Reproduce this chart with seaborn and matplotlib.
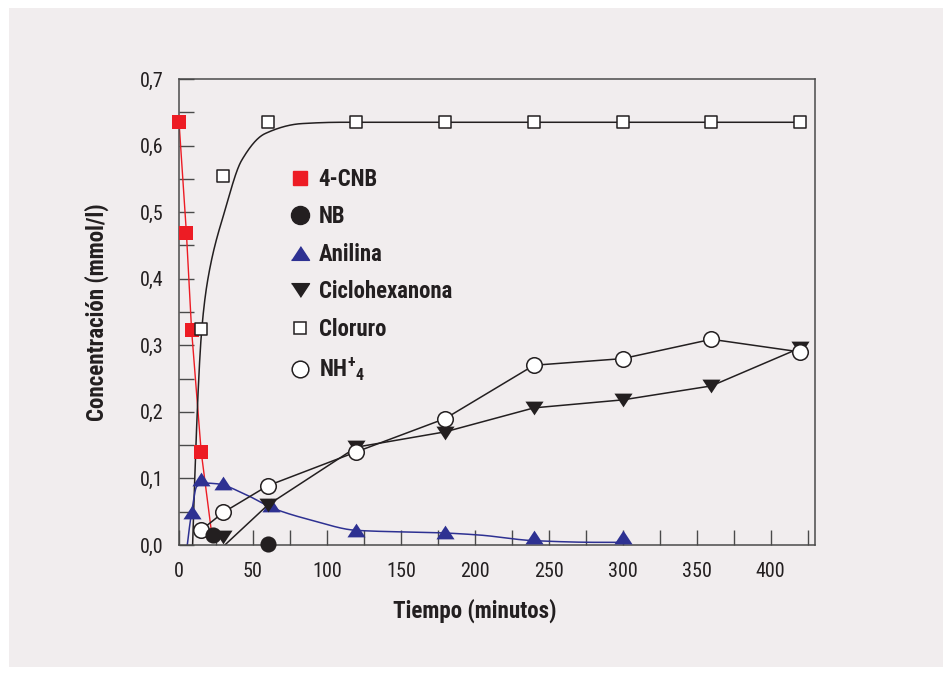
import numpy as np
import matplotlib
matplotlib.use("Agg")
import matplotlib.pyplot as plt
import matplotlib.font_manager as fm
import seaborn as sns
from matplotlib.lines import Line2D
from matplotlib.patches import Rectangle
from matplotlib.ticker import MultipleLocator, FuncFormatter
from matplotlib.font_manager import FontProperties

# ---------------- data ----------------
cnb_t = [0, 5, 8.5, 15, 22.8]
cnb_y = [0.636, 0.469, 0.323, 0.140, 0.005]
cnb_marked = 4  # last node is hidden under the NB marker

nb_t = [23, 60]
nb_y = [0.015, 0.002]

anil_t = [8.6, 15, 30, 62, 120, 180, 240, 300]
anil_y = [0.050, 0.099, 0.093, 0.060, 0.023, 0.019, 0.012, 0.012]
# fitted trend curve for Anilina (nodes)
anil_fit_t = [5.6, 8.6, 12, 17.6, 25.5, 45.8, 63.8, 90, 120, 180, 203, 240, 283, 300]
anil_fit_y = [0.0, 0.050, 0.088, 0.093, 0.092, 0.075, 0.055, 0.037, 0.022, 0.018, 0.015, 0.0065, 0.004, 0.004]

ciclo_t = [30, 60, 120, 180, 240, 300, 360, 420]
ciclo_y = [0.0125, 0.060, 0.147, 0.168, 0.206, 0.218, 0.239, 0.296]
ciclo_line_t = [31, 60, 120, 180, 240, 300, 360, 420]
ciclo_line_y = [0.0, 0.060, 0.147, 0.170, 0.206, 0.218, 0.239, 0.296]

clor_t = [15, 30, 60, 120, 180, 240, 300, 360, 420]
clor_y = [0.324, 0.555, 0.635, 0.635, 0.635, 0.635, 0.635, 0.635, 0.635]
# fitted trend curve for Cloruro (nodes)
clor_fit_t = [9.2, 15.4, 19.8, 31.1, 42.4, 58.2, 83, 110, 420]
clor_fit_y = [0.0, 0.324, 0.403, 0.503, 0.578, 0.618, 0.633, 0.635, 0.635]

nh4_t = [15, 30, 60, 120, 180, 240, 300, 360, 420]
nh4_y = [0.0225, 0.049, 0.089, 0.140, 0.190, 0.270, 0.280, 0.309, 0.290]

labels = ["4-CNB", "NB", "Anilina", "Ciclohexanona", "Cloruro", r"NH$^{+}$$_{4}$"]
xticks = [0, 50, 100, 150, 200, 250, 300, 350, 400]
yticks = [0.0, 0.1, 0.2, 0.3, 0.4, 0.5, 0.6, 0.7]

# ---------------- style ----------------
RED = "#ed1c24"
BLUE = "#2e3192"
BLACK = "#231f20"
BG = "#f1edee"
SPINE = "#4a4a4a"

sns.set_theme(style="ticks")

# pick the narrowest suitable installed sans family
_ttf = fm.fontManager.ttflist
_names = {f.name for f in _ttf}
FAM, STRETCH = None, "normal"
for nm in ["Liberation Sans Narrow", "Roboto Condensed", "Noto Sans Condensed",
           "Open Sans Condensed", "DejaVu Sans Condensed", "Arimo Narrow"]:
    if nm in _names:
        FAM = nm
        break
if FAM is None:
    for nm in ["Noto Sans", "Open Sans", "DejaVu Sans", "Roboto"]:
        if any(f.name == nm and str(f.stretch) in ("condensed", "semi-condensed", "extra-condensed")
               for f in _ttf):
            FAM, STRETCH = nm, "condensed"
            break
if FAM is None:
    for nm in ["Roboto", "Liberation Sans", "DejaVu Sans"]:
        if nm in _names:
            FAM = nm
            break
FAMS = [FAM, "DejaVu Sans"]
plt.rcParams["font.family"] = FAMS
plt.rcParams["font.stretch"] = STRETCH
plt.rcParams["mathtext.default"] = "regular"


def pchip(x, y, xs):
    x = np.asarray(x, float)
    y = np.asarray(y, float)
    h = np.diff(x)
    d = np.diff(y) / h
    n = len(x)
    m = np.zeros(n)
    for k in range(1, n - 1):
        if d[k - 1] * d[k] > 0:
            w1 = 2 * h[k] + h[k - 1]
            w2 = h[k] + 2 * h[k - 1]
            m[k] = (w1 + w2) / (w1 / d[k - 1] + w2 / d[k])

    def end(h0, h1, d0, d1):
        mm = ((2 * h0 + h1) * d0 - h0 * d1) / (h0 + h1)
        if np.sign(mm) != np.sign(d0):
            mm = 0.0
        elif np.sign(d0) != np.sign(d1) and abs(mm) > abs(3 * d0):
            mm = 3 * d0
        return mm

    m[0] = end(h[0], h[1], d[0], d[1])
    m[-1] = end(h[-1], h[-2], d[-1], d[-2])
    idx = np.clip(np.searchsorted(x, xs) - 1, 0, n - 2)
    t = (xs - x[idx]) / h[idx]
    h00 = 2 * t**3 - 3 * t**2 + 1
    h10 = t**3 - 2 * t**2 + t
    h01 = -2 * t**3 + 3 * t**2
    h11 = t**3 - t**2
    return h00 * y[idx] + h10 * h[idx] * m[idx] + h01 * y[idx + 1] + h11 * h[idx] * m[idx + 1]


def smooth(tx, ty, n=800):
    xs = np.linspace(tx[0], tx[-1], n)
    return xs, pchip(tx, ty, xs)


TRI_UP = [(-1, -0.76), (1, -0.76), (0, 0.76)]
TRI_DN = [(-1, 0.76), (1, 0.76), (0, -0.76)]

fig = plt.figure(figsize=(9.52, 6.75), dpi=100)
fig.patch.set_facecolor("white")
fig.patches.append(Rectangle((9 / 952, 8 / 675), 934 / 952, 659 / 675,
                             transform=fig.transFigure, facecolor=BG,
                             edgecolor="none", zorder=-10))
ax = fig.add_axes([179 / 952, 130 / 675, 636 / 952, 466 / 675])
ax.set_facecolor(BG)

# ---- font sizes matched to reference text widths ----
_rend = fig.canvas.get_renderer()


def text_px(s, size, weight):
    fp = FontProperties(family=FAMS, weight=weight, size=size, stretch=STRETCH)
    t = fig.text(0, 0, s, fontproperties=fp)
    bb = t.get_window_extent(_rend)
    t.remove()
    return bb.width, bb.height


def fit_size(s, target_w, weight, cap):
    w, _ = text_px(s, 20, weight)
    return min(cap, 20 * target_w / w)


LEG_FS = fit_size("Ciclohexanona", 134, "bold", 17)
TICK_FS = fit_size("400", 30, "normal", 17)
LAB_FS = fit_size("Tiempo (minutos)", 164, "bold", 17.5)

# ---------------- lines ----------------
sns.lineplot(x=cnb_t, y=cnb_y, ax=ax, color=RED, lw=1.0, sort=False,
             estimator=None, zorder=2)
xs, ys = smooth(clor_fit_t, clor_fit_y, 2000)
sns.lineplot(x=xs, y=ys, ax=ax, color=BLACK, lw=1.1, sort=False, estimator=None, zorder=2)
xs, ys = smooth(anil_fit_t, anil_fit_y)
sns.lineplot(x=xs, y=ys, ax=ax, color=BLUE, lw=1.1, sort=False, estimator=None, zorder=2)
sns.lineplot(x=ciclo_line_t, y=ciclo_line_y, ax=ax, color=BLACK, lw=1.1, sort=False,
             estimator=None, zorder=2)
sns.lineplot(x=nh4_t, y=nh4_y, ax=ax, color=BLACK, lw=1.1, sort=False,
             estimator=None, zorder=2)

# ---------------- markers ----------------
sns.scatterplot(x=cnb_t[:cnb_marked], y=cnb_y[:cnb_marked], ax=ax, marker="s", s=100,
                color=RED, edgecolor=RED, linewidth=0, zorder=3, clip_on=False)
sns.scatterplot(x=anil_t, y=anil_y, ax=ax, marker=TRI_UP, s=170,
                color=BLUE, edgecolor=BLUE, linewidth=0, zorder=4, clip_on=False)
sns.scatterplot(x=clor_t, y=clor_y, ax=ax, marker="s", s=70,
                facecolor="white", edgecolor=BLACK, linewidth=1.1, zorder=5, clip_on=False)
sns.scatterplot(x=ciclo_t, y=ciclo_y, ax=ax, marker=TRI_DN, s=170,
                color=BLACK, edgecolor=BLACK, linewidth=0, zorder=5, clip_on=False)
sns.scatterplot(x=nh4_t, y=nh4_y, ax=ax, marker="o", s=125,
                facecolor="white", edgecolor=BLACK, linewidth=1.1, zorder=6, clip_on=False)
sns.scatterplot(x=nb_t, y=nb_y, ax=ax, marker="o", s=135,
                color=BLACK, edgecolor=BLACK, linewidth=0, zorder=7, clip_on=False)

# ---------------- axes ----------------
ax.set_xlim(0, 430)
ax.set_ylim(0, 0.7)
ax.set_xticks(xticks)
ax.set_yticks(yticks)
ax.xaxis.set_minor_locator(MultipleLocator(25))
ax.yaxis.set_minor_locator(MultipleLocator(0.05))
ax.yaxis.set_major_formatter(FuncFormatter(lambda v, p: f"{v:.1f}".replace(".", ",")))
ax.xaxis.set_major_formatter(FuncFormatter(lambda v, p: f"{v:.0f}"))
ax.tick_params(which="both", direction="in", length=10.5, width=1.0, color=SPINE,
               top=False, right=False, labelsize=TICK_FS, labelcolor=BLACK)
ax.tick_params(axis="y", which="both", pad=11)
ax.tick_params(axis="x", which="both", pad=12)
for s in ax.spines.values():
    s.set_color(SPINE)
    s.set_linewidth(1.1)
    s.set_visible(True)

ax.set_xlabel("Tiempo (minutos)", fontsize=LAB_FS, fontweight="bold", color=BLACK)
ax.set_ylabel("Concentración (mmol/l)", fontsize=LAB_FS, fontweight="bold", color=BLACK)
ax.xaxis.set_label_coords(0.465, -0.115)
ax.yaxis.set_label_coords(-0.11, 0.5)

# ---------------- legend ----------------
handles = [
    Line2D([], [], ls="none", marker="s", color=RED, mec=RED, ms=10),
    Line2D([], [], ls="none", marker="o", color=BLACK, mec=BLACK, ms=13),
    Line2D([], [], ls="none", marker=TRI_UP, color=BLUE, mec=BLUE, ms=13),
    Line2D([], [], ls="none", marker=TRI_DN, color=BLACK, mec=BLACK, ms=13),
    Line2D([], [], ls="none", marker="s", mfc="white", mec=BLACK, mew=1.1, ms=8.5),
    Line2D([], [], ls="none", marker="o", mfc="white", mec=BLACK, mew=1.1, ms=12),
]
_, row_h = text_px("Ciclohexanona", LEG_FS, "bold")
fs_px = LEG_FS * 100 / 72
spacing = max(0.1, (37.5 - row_h) / fs_px)
leg = ax.legend(handles, labels, loc="upper left", bbox_to_anchor=(0.173, 0.81),
                frameon=False,
                prop=FontProperties(family=FAMS, weight="bold", size=LEG_FS, stretch=STRETCH),
                handlelength=1.0, handletextpad=0.3, labelspacing=spacing,
                borderaxespad=0, borderpad=0)
for t in leg.get_texts():
    t.set_color(BLACK)

fig.savefig("out.png", dpi=100, facecolor=fig.get_facecolor())
